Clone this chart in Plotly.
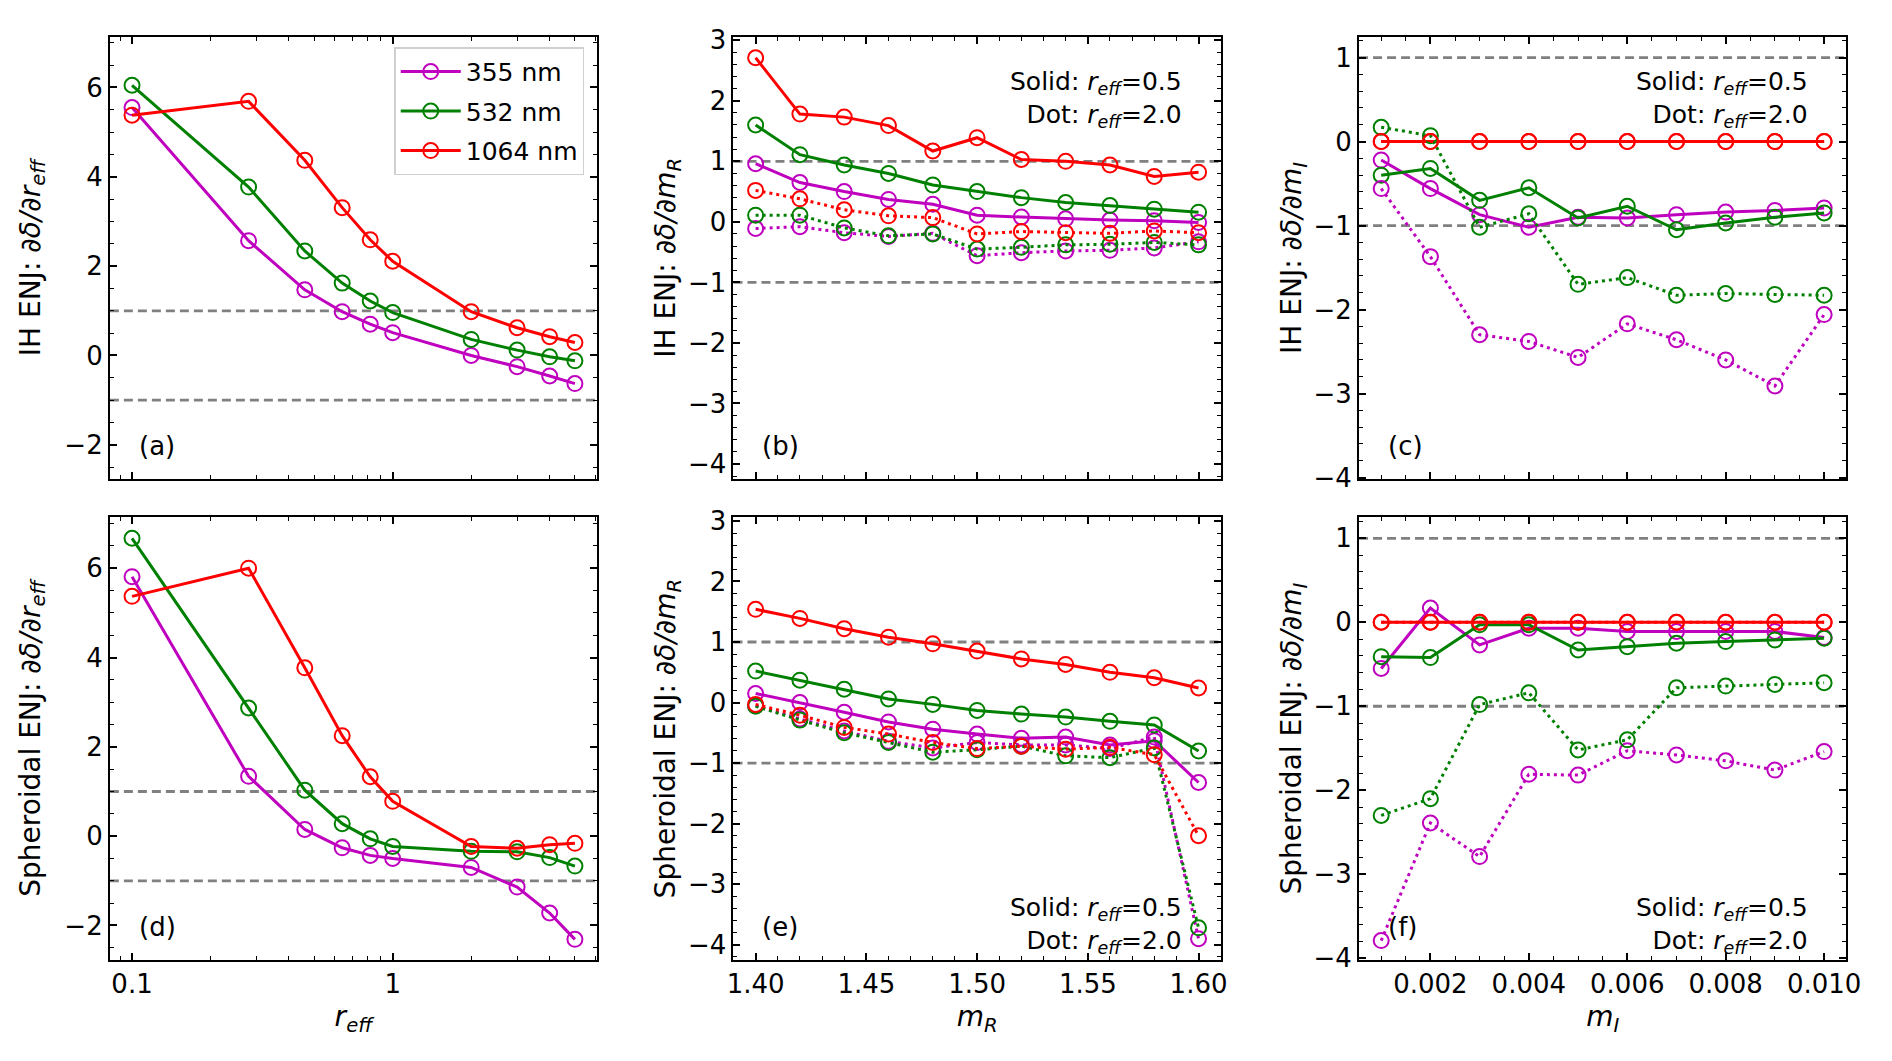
import plotly.graph_objects as go
from plotly.subplots import make_subplots

# x grids
r_eff = [0.1, 0.28, 0.46, 0.64, 0.82, 1.0, 2.0, 3.0, 4.0, 5.0]
m_R = [1.40, 1.42, 1.44, 1.46, 1.48, 1.50, 1.52, 1.54, 1.56, 1.58, 1.60]
m_I = [0.001, 0.002, 0.003, 0.004, 0.005, 0.006, 0.007, 0.008, 0.009, 0.010]

wavelengths = ["355 nm", "532 nm", "1064 nm"]

# IH ENJ, d(delta)/d(r_eff)
ih_reff_355 = [5.55, 2.57, 1.47, 0.98, 0.70, 0.51, 0.00, -0.25, -0.46, -0.63]
ih_reff_532 = [6.05, 3.77, 2.34, 1.62, 1.22, 0.96, 0.36, 0.12, -0.03, -0.12]
ih_reff_1064 = [5.38, 5.69, 4.37, 3.31, 2.59, 2.11, 0.98, 0.62, 0.42, 0.29]

# Spheroidal ENJ, d(delta)/d(r_eff)
sph_reff_355 = [5.81, 1.34, 0.15, -0.26, -0.43, -0.50, -0.70, -1.14, -1.72, -2.31]
sph_reff_532 = [6.67, 2.87, 1.03, 0.28, -0.06, -0.23, -0.34, -0.35, -0.48, -0.67]
sph_reff_1064 = [5.37, 6.00, 3.77, 2.25, 1.33, 0.78, -0.23, -0.27, -0.19, -0.16]

# IH ENJ, d(delta)/d(m_R); solid r_eff=0.5, dot r_eff=2.0
ih_mr_355_s = [0.96, 0.65, 0.50, 0.37, 0.29, 0.11, 0.08, 0.05, 0.03, 0.02, -0.01]
ih_mr_532_s = [1.60, 1.11, 0.94, 0.80, 0.61, 0.50, 0.40, 0.32, 0.27, 0.21, 0.16]
ih_mr_1064_s = [2.71, 1.78, 1.73, 1.59, 1.17, 1.39, 1.03, 1.00, 0.94, 0.75, 0.82]
ih_mr_355_d = [-0.11, -0.08, -0.18, -0.24, -0.19, -0.56, -0.51, -0.48, -0.47, -0.43, -0.33]
ih_mr_532_d = [0.11, 0.11, -0.10, -0.23, -0.20, -0.45, -0.42, -0.38, -0.37, -0.34, -0.38]
ih_mr_1064_d = [0.52, 0.38, 0.20, 0.10, 0.07, -0.20, -0.16, -0.18, -0.19, -0.15, -0.18]

# Spheroidal ENJ, d(delta)/d(m_R)
sph_mr_355_s = [0.15, 0.00, -0.16, -0.32, -0.44, -0.52, -0.59, -0.57, -0.70, -0.63, -1.32]
sph_mr_532_s = [0.52, 0.37, 0.22, 0.06, -0.03, -0.13, -0.19, -0.24, -0.31, -0.37, -0.80]
sph_mr_1064_s = [1.54, 1.39, 1.22, 1.08, 0.97, 0.85, 0.72, 0.63, 0.50, 0.41, 0.24]
sph_mr_355_d = [-0.05, -0.27, -0.47, -0.64, -0.75, -0.66, -0.70, -0.70, -0.76, -0.57, -3.90]
sph_mr_532_d = [-0.06, -0.29, -0.50, -0.66, -0.82, -0.78, -0.72, -0.88, -0.91, -0.75, -3.72]
sph_mr_1064_d = [-0.03, -0.21, -0.41, -0.52, -0.66, -0.76, -0.72, -0.77, -0.74, -0.86, -2.20]

# IH ENJ, d(delta)/d(m_I)
ih_mi_355_s = [-0.22, -0.56, -0.87, -1.02, -0.90, -0.91, -0.87, -0.84, -0.82, -0.79]
ih_mi_532_s = [-0.40, -0.32, -0.70, -0.55, -0.91, -0.77, -1.05, -0.97, -0.90, -0.85]
ih_mi_1064_s = [0, 0, 0, 0, 0, 0, 0, 0, 0, 0]
ih_mi_355_d = [-0.56, -1.37, -2.30, -2.38, -2.57, -2.17, -2.36, -2.60, -2.91, -2.06]
ih_mi_532_d = [0.17, 0.07, -1.02, -0.86, -1.70, -1.62, -1.83, -1.81, -1.82, -1.83]
ih_mi_1064_d = [0, 0, 0, 0, 0, 0, 0, 0, 0, 0]

# Spheroidal ENJ, d(delta)/d(m_I)
sph_mi_355_s = [-0.55, 0.17, -0.27, -0.07, -0.07, -0.11, -0.11, -0.11, -0.11, -0.18]
sph_mi_532_s = [-0.41, -0.42, -0.03, -0.03, -0.33, -0.29, -0.25, -0.23, -0.21, -0.19]
sph_mi_1064_s = [0, 0, 0, 0, 0, 0, 0, 0, 0, 0]
sph_mi_355_d = [-3.79, -2.39, -2.79, -1.81, -1.82, -1.53, -1.58, -1.65, -1.76, -1.54]
sph_mi_532_d = [-2.30, -2.10, -0.98, -0.84, -1.52, -1.40, -0.78, -0.76, -0.74, -0.72]
sph_mi_1064_d = [0, 0, 0, 0, 0, 0, 0, 0, 0, 0]

colors = ["#bf00bf", "#008000", "#ff0000"]
FONT = "DejaVu Sans"
DOT = "3px,4px"

fig = make_subplots(rows=2, cols=3)


def add_series(row, col, x, ys, dash, legend=False):
    for name, y, c in zip(wavelengths, ys, colors):
        fig.add_trace(go.Scatter(
            x=x, y=y, name=name, legendgroup=name, mode="lines+markers",
            line=dict(color=c, width=3, dash=dash),
            marker=dict(symbol="circle-open", size=15, color=c, line=dict(width=2, color=c)),
            showlegend=legend,
        ), row=row, col=col)


add_series(1, 1, r_eff, [ih_reff_355, ih_reff_532, ih_reff_1064], "solid", legend=True)
add_series(2, 1, r_eff, [sph_reff_355, sph_reff_532, sph_reff_1064], "solid")
add_series(1, 2, m_R, [ih_mr_355_s, ih_mr_532_s, ih_mr_1064_s], "solid")
add_series(1, 2, m_R, [ih_mr_355_d, ih_mr_532_d, ih_mr_1064_d], DOT)
add_series(2, 2, m_R, [sph_mr_355_s, sph_mr_532_s, sph_mr_1064_s], "solid")
add_series(2, 2, m_R, [sph_mr_355_d, sph_mr_532_d, sph_mr_1064_d], DOT)
add_series(1, 3, m_I, [ih_mi_355_s, ih_mi_532_s, ih_mi_1064_s], "solid")
add_series(1, 3, m_I, [ih_mi_355_d, ih_mi_532_d, ih_mi_1064_d], DOT)
add_series(2, 3, m_I, [sph_mi_355_s, sph_mi_532_s, sph_mi_1064_s], "solid")
add_series(2, 3, m_I, [sph_mi_355_d, sph_mi_532_d, sph_mi_1064_d], DOT)

# reference lines at +-1
for r in (1, 2):
    for c in (1, 2, 3):
        for yv in (1, -1):
            fig.add_hline(y=yv, row=r, col=c, layer="below",
                          line=dict(color="#808080", width=2.8, dash="9px,5px"))

# page body has an 8px margin, so the figure is a bit smaller than the window
OFF = 8
W, H = 1892 - 2 * OFF, 1061 - 2 * OFF
xdom = [(104, 597), (735, 1228), (1368, 1861)]
ydom = [(26, 479), (518, 971)]


def fx(px):
    return (px - OFF) / W


def fy(py):
    return 1 - (py - OFF) / H


axis_common = dict(
    showline=True, linecolor="black", linewidth=2, mirror="allticks",
    ticks="inside", ticklen=7, tickwidth=1.6, tickcolor="black",
    showgrid=False, zeroline=False,
    tickfont=dict(family=FONT, size=26, color="black"),
    title_font=dict(family=FONT, size=28, color="black"),
)
minor_common = dict(ticks="inside", ticklen=4, tickwidth=1.2, tickcolor="black", showgrid=False)

log_minor = [0.09, 0.2, 0.3, 0.4, 0.5, 0.6, 0.7, 0.8, 0.9, 2, 3, 4, 5, 6]

xcfg = [
    dict(type="log", range=[-1.085, 0.784], tickmode="array", tickvals=[0.1, 1], ticktext=["0.1", "1"],
         minor=dict(tickmode="array", tickvals=log_minor, **minor_common)),
    dict(range=[1.39, 1.61], tickmode="array", tickvals=[1.40, 1.45, 1.50, 1.55, 1.60],
         ticktext=["1.40", "1.45", "1.50", "1.55", "1.60"],
         minor=dict(dtick=0.01, tick0=1.40, **minor_common)),
    dict(range=[0.00055, 0.01045], tickmode="array", tickvals=[0.002, 0.004, 0.006, 0.008, 0.010],
         ticktext=["0.002", "0.004", "0.006", "0.008", "0.010"],
         minor=dict(dtick=0.0005, tick0=0.0, **minor_common)),
]
ycfg = [
    dict(range=[-2.77, 7.14], tickmode="array", tickvals=[-2, 0, 2, 4, 6],
         minor=dict(dtick=0.5, tick0=0, **minor_common)),
    dict(range=[-4.25, 3.06], tickmode="array", tickvals=[-4, -3, -2, -1, 0, 1, 2, 3],
         minor=dict(dtick=0.2, tick0=0, **minor_common)),
    dict(range=[-4.02, 1.25], tickmode="array", tickvals=[-4, -3, -2, -1, 0, 1],
         minor=dict(dtick=0.2, tick0=0, **minor_common)),
]

deriv = ["<i>∂δ/∂r<sub>eff</sub></i>", "<i>∂δ/∂m<sub>R</sub></i>", "<i>∂δ/∂m<sub>I</sub></i>"]
xtitles = ["<i>r<sub>eff</sub></i>", "<i>m<sub>R</sub></i>", "<i>m<sub>I</sub></i>"]
rowname = ["IH ENJ: ", "Spheroidal ENJ: "]
ystandoff = [16, 4, 4]

layout = {}
for r in range(2):
    for c in range(3):
        k = r * 3 + c + 1
        sfx = "" if k == 1 else str(k)
        x0, x1 = xdom[c]
        y0, y1 = ydom[r]
        xa = dict(axis_common, **xcfg[c])
        xa["domain"] = [fx(x0), fx(x1)]
        if r == 0:
            xa["showticklabels"] = False
        else:
            xa["title"] = dict(text=xtitles[c], standoff=8)
        ya = dict(axis_common, **ycfg[c])
        ya["domain"] = [fy(y1), fy(y0)]
        ya["title"] = dict(text=rowname[r] + deriv[c], standoff=ystandoff[c])
        layout["xaxis" + sfx] = xa
        layout["yaxis" + sfx] = ya
fig.update_layout(**layout)

# panel labels
labels = ["(a)", "(b)", "(c)", "(d)", "(e)", "(f)"]
for k, lab in enumerate(labels):
    sfx = "" if k == 0 else str(k + 1)
    fig.add_annotation(text=lab, xref="x" + sfx + " domain", yref="y" + sfx + " domain",
                       x=0.055, y=0.075, xanchor="left", yanchor="middle", showarrow=False,
                       font=dict(family=FONT, size=26, color="black"))

note = "Solid: <i>r<sub>eff</sub></i>=0.5<br>Dot: <i>r<sub>eff</sub></i>=2.0"
for k, ypos, yanc in [(2, 0.935, "top"), (3, 0.935, "top"), (5, 0.0, "bottom"), (6, 0.0, "bottom")]:
    sfx = str(k)
    fig.add_annotation(text=note, xref="x" + sfx + " domain", yref="y" + sfx + " domain",
                       x=0.925, y=ypos, xanchor="right", yanchor=yanc, align="right", showarrow=False,
                       font=dict(family=FONT, size=25, color="black"))

fig.update_layout(
    width=W, height=H,
    margin=dict(l=0, r=0, t=0, b=0),
    paper_bgcolor="white", plot_bgcolor="white",
    font=dict(family=FONT, size=25, color="black"),
    legend=dict(x=fx(584), y=fy(37), xanchor="right", yanchor="top",
                bgcolor="rgba(255,255,255,0.8)", bordercolor="#d0d0d0", borderwidth=1.5,
                font=dict(family=FONT, size=25), itemwidth=60, tracegroupgap=4),
)

fig.write_html("out.html")
